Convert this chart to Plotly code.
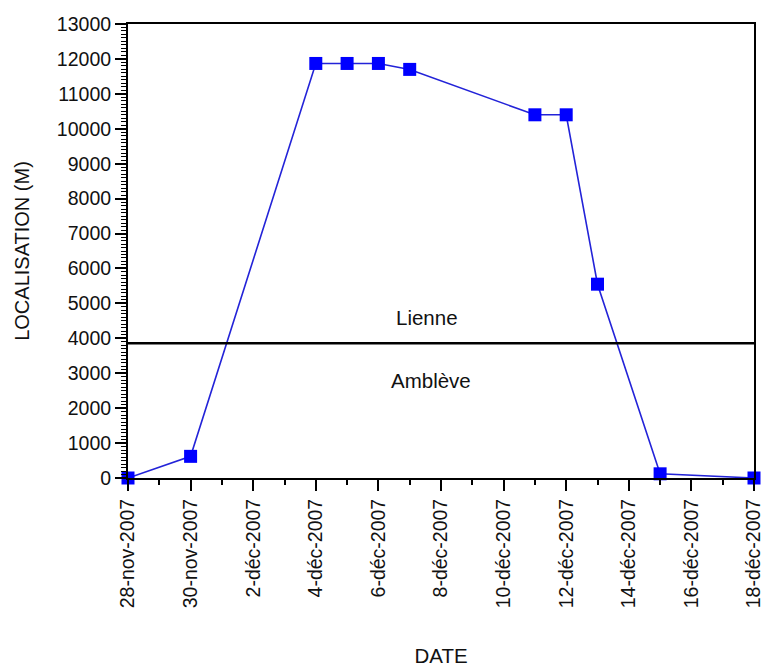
import plotly.graph_objects as go

dates = ['2007-11-28', '2007-11-30', '2007-12-04', '2007-12-05', '2007-12-06',
         '2007-12-07', '2007-12-11', '2007-12-12', '2007-12-13', '2007-12-15',
         '2007-12-18']
localisation = [0, 620, 11870, 11870, 11870, 11700, 10400, 10400, 5550, 120, 0]

tick_dates = ['2007-11-28', '2007-11-30', '2007-12-02', '2007-12-04', '2007-12-06',
              '2007-12-08', '2007-12-10', '2007-12-12', '2007-12-14', '2007-12-16',
              '2007-12-18']
tick_labels = ['28-nov-2007', '30-nov-2007', '2-déc-2007', '4-déc-2007', '6-déc-2007',
               '8-déc-2007', '10-déc-2007', '12-déc-2007', '14-déc-2007', '16-déc-2007',
               '18-déc-2007']

boundary_value = 3860
zone_labels = ['Lienne', 'Amblève']
zone_label_x = ['2007-12-07 13:00', '2007-12-07 16:00']
zone_label_y = [4600, 2780]

x_range = ['2007-11-28', '2007-12-18']
y_range = [0, 13000]

FONT = 'Liberation Sans, Arial, Helvetica, sans-serif'

fig = go.Figure()
fig.add_trace(go.Scatter(
    x=dates, y=localisation, mode='lines+markers',
    line=dict(color='#2323d8', width=1.6),
    marker=dict(symbol='square', size=13, color='#0000ff',
                line=dict(color='#0000ff', width=0)),
    cliponaxis=False, showlegend=False,
))

fig.add_shape(type='line', xref='paper', yref='y', x0=0, x1=1,
              y0=boundary_value, y1=boundary_value,
              line=dict(color='black', width=2.5))

for txt, xx, yy in zip(zone_labels, zone_label_x, zone_label_y):
    fig.add_annotation(x=xx, y=yy, text=txt, showarrow=False,
                       font=dict(family=FONT, size=20.5, color='#111'))

fig.update_layout(
    width=763, height=667,
    margin=dict(l=128, r=9, t=24, b=189),
    paper_bgcolor='white', plot_bgcolor='white',
    font=dict(family=FONT, size=19.5, color='#111'),
)
fig.update_xaxes(
    type='date', range=x_range, automargin=False, ticklabeloverflow='allow',
    tickmode='array', tickvals=tick_dates, ticktext=tick_labels,
    tickangle=-90, ticks='outside', ticklen=11, tickwidth=1.5, tickcolor='black',
    minor=dict(ticks='outside', ticklen=5, tickwidth=1.5, tickcolor='black',
               dtick=86400000, tick0='2007-11-28', showgrid=False),
    showline=True, linecolor='black', linewidth=2, mirror=True,
    showgrid=False, zeroline=False,
    title=dict(text='DATE', font=dict(size=20.5), standoff=42),
)
fig.update_yaxes(
    range=y_range, dtick=1000, tick0=0, tickformat='d', automargin=False,
    ticklabeloverflow='allow',
    ticks='outside', ticklen=11, tickwidth=1.5, tickcolor='black',
    minor=dict(ticks='outside', ticklen=5, tickwidth=1.2, tickcolor='black',
               dtick=100, showgrid=False),
    showline=True, linecolor='black', linewidth=2, mirror=True,
    showgrid=False, zeroline=False,
    title=dict(text='LOCALISATION (M)', font=dict(size=20), standoff=22),
)

fig.write_html('out.html')
